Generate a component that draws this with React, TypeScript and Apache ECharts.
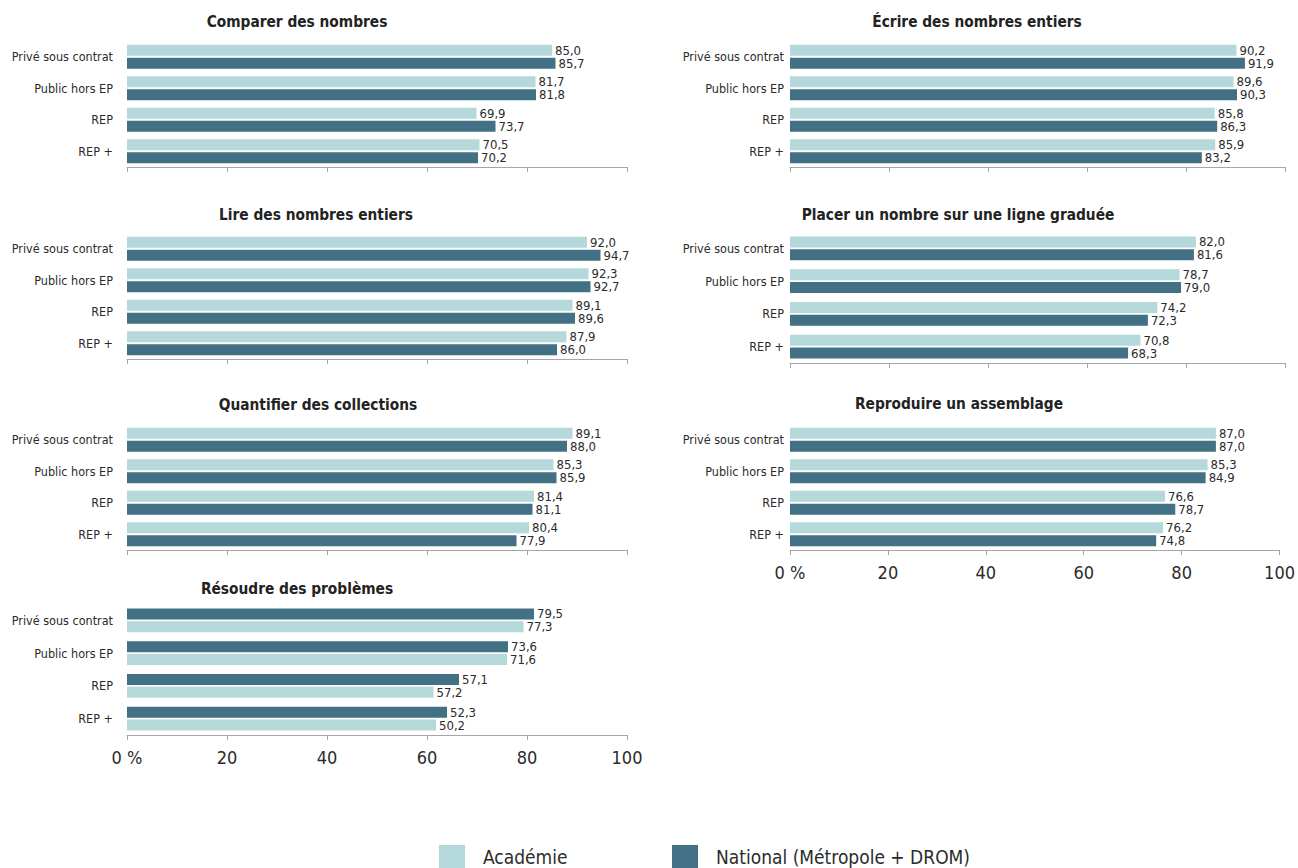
import React, { useEffect, useRef } from "react";
import * as echarts from "echarts";

// ---- Data ----
const categories = ["Privé sous contrat", "Public hors EP", "REP", "REP +"];
const seriesNames = ["Académie", "National (Métropole + DROM)"];
const xTickValues = [0, 20, 40, 60, 80, 100];

const comparerAcademie = [85.0, 81.7, 69.9, 70.5];
const comparerNational = [85.7, 81.8, 73.7, 70.2];

const lireAcademie = [92.0, 92.3, 89.1, 87.9];
const lireNational = [94.7, 92.7, 89.6, 86.0];

const quantifierAcademie = [89.1, 85.3, 81.4, 80.4];
const quantifierNational = [88.0, 85.9, 81.1, 77.9];

// Printed labels of "Résoudre des problèmes"
const resoudreAcademie = [77.3, 71.6, 57.2, 50.2];
const resoudreNational = [79.5, 73.6, 57.1, 52.3];
// Bar lengths as drawn in the source chart (they differ from the printed labels)
const resoudreAcademieBars = [79.3, 76.0, 61.3, 61.8];
const resoudreNationalBars = [81.4, 76.2, 66.4, 64.0];

const ecrireAcademie = [90.2, 89.6, 85.8, 85.9];
const ecrireNational = [91.9, 90.3, 86.3, 83.2];

const placerAcademie = [82.0, 78.7, 74.2, 70.8];
const placerNational = [81.6, 79.0, 72.3, 68.3];

const reproduireAcademie = [87.0, 85.3, 76.6, 76.2];
const reproduireNational = [87.0, 84.9, 78.7, 74.8];

const panelTitles = [
  "Comparer des nombres",
  "Lire des nombres entiers",
  "Quantifier des collections",
  "Résoudre des problèmes",
  "Écrire des nombres entiers",
  "Placer un nombre sur une ligne graduée",
  "Reproduire un assemblage",
];

const panels = [
  { title: panelTitles[0], a: comparerAcademie, n: comparerNational },
  { title: panelTitles[1], a: lireAcademie, n: lireNational },
  { title: panelTitles[2], a: quantifierAcademie, n: quantifierNational },
  {
    title: panelTitles[3],
    a: resoudreAcademieBars,
    n: resoudreNationalBars,
    aLabels: resoudreAcademie,
    nLabels: resoudreNational,
    nationalFirst: true,
  },
  { title: panelTitles[4], a: ecrireAcademie, n: ecrireNational },
  { title: panelTitles[5], a: placerAcademie, n: placerNational },
  { title: panelTitles[6], a: reproduireAcademie, n: reproduireNational },
];

// ---- Layout / style ----
const FONT = "'DejaVu Sans Condensed', 'Liberation Sans Narrow', sans-serif";
const LIGHT = "#b5d8da";
const DARK = "#427084";
const TEXT = "#2b2b2b";

const layouts = [
  { left: 127, width: 500, top: 41, height: 126, tx: 297, ty: 22, axisLabels: false, yMargin: 14 },
  { left: 127, width: 500, top: 233, height: 126, tx: 316, ty: 215, axisLabels: false, yMargin: 14 },
  { left: 127, width: 500, top: 424, height: 126, tx: 318, ty: 405, axisLabels: false, yMargin: 14 },
  { left: 127, width: 500, top: 604, height: 131, tx: 297, ty: 589, axisLabels: true, yMargin: 14 },
  { left: 790, width: 495, top: 41, height: 126, tx: 977, ty: 22, axisLabels: false, yMargin: 6 },
  { left: 790, width: 495, top: 232, height: 131, tx: 958, ty: 215, axisLabels: false, yMargin: 6 },
  { left: 790, width: 495, top: 424, height: 126, tx: 959, ty: 404, axisLabels: true, yMargin: 6 },
];

const fmt = (v: number) => v.toFixed(1).replace(".", ",");

function buildOption() {
  const grid: any[] = [];
  const xAxis: any[] = [];
  const yAxis: any[] = [];
  const series: any[] = [];
  const graphic: any[] = [];

  panels.forEach((p: any, i) => {
    const L = layouts[i];
    grid.push({ left: L.left, width: L.width, top: L.top, height: L.height, containLabel: false });
    xAxis.push({
      gridIndex: i,
      type: "value",
      min: xTickValues[0],
      max: xTickValues[xTickValues.length - 1],
      interval: 20,
      splitLine: { show: false },
      axisLine: { show: true, lineStyle: { color: "#a6a6a6", width: 1 } },
      axisTick: { show: true, length: 5, lineStyle: { color: "#a6a6a6" } },
      axisLabel: {
        show: L.axisLabels,
        fontFamily: FONT,
        fontSize: 18,
        color: TEXT,
        margin: 13,
        formatter: (v: number) => (v === 0 ? "0 %" : String(v)),
      },
    });
    yAxis.push({
      gridIndex: i,
      type: "category",
      inverse: true,
      data: categories,
      axisLine: { show: false },
      axisTick: { show: false },
      axisLabel: { fontFamily: FONT, fontSize: 12.5, color: TEXT, margin: L.yMargin },
    });
    const aLabels = p.aLabels || p.a;
    const nLabels = p.nLabels || p.n;
    const mk = (name: string, data: number[], labels: number[], color: string) => ({
      type: "bar",
      name,
      xAxisIndex: i,
      yAxisIndex: i,
      data,
      barWidth: 11,
      barGap: "18%",
      itemStyle: { color },
      label: {
        show: true,
        position: "right",
        distance: 3,
        fontFamily: FONT,
        fontSize: 13,
        lineHeight: 12,
        color: TEXT,
        formatter: (prm: any) => fmt(labels[prm.dataIndex]),
      },
    });
    const sa = mk(seriesNames[0], p.a, aLabels, LIGHT);
    const sn = mk(seriesNames[1], p.n, nLabels, DARK);
    if (p.nationalFirst) series.push(sn, sa);
    else series.push(sa, sn);

    graphic.push({
      type: "text",
      x: L.tx,
      y: L.ty,
      style: {
        text: p.title,
        fontFamily: FONT,
        fontWeight: "bold",
        fontSize: 15.3,
        fill: "#222",
        textAlign: "center",
        textVerticalAlign: "middle",
      },
    });
  });

  const legendBase = {
    top: 840,
    itemWidth: 26,
    itemHeight: 24,
    icon: "rect",
    textStyle: { fontFamily: FONT, fontSize: 19, color: TEXT, padding: [0, 0, 0, 13] },
  };

  return {
    animation: false,
    backgroundColor: "#ffffff",
    grid,
    xAxis,
    yAxis,
    series,
    graphic,
    legend: [
      { ...legendBase, left: 434, data: [seriesNames[0]] },
      { ...legendBase, left: 667, data: [seriesNames[1]] },
    ],
  };
}

export default function App() {
  const ref = useRef<HTMLDivElement>(null);
  useEffect(() => {
    document.body.style.margin = "0";
    if (!ref.current) return;
    const chart = echarts.init(ref.current, null, { renderer: "svg" });
    chart.setOption(buildOption() as any);
    return () => chart.dispose();
  }, []);
  return <div ref={ref} style={{ width: 1298, height: 868 }} />;
}
